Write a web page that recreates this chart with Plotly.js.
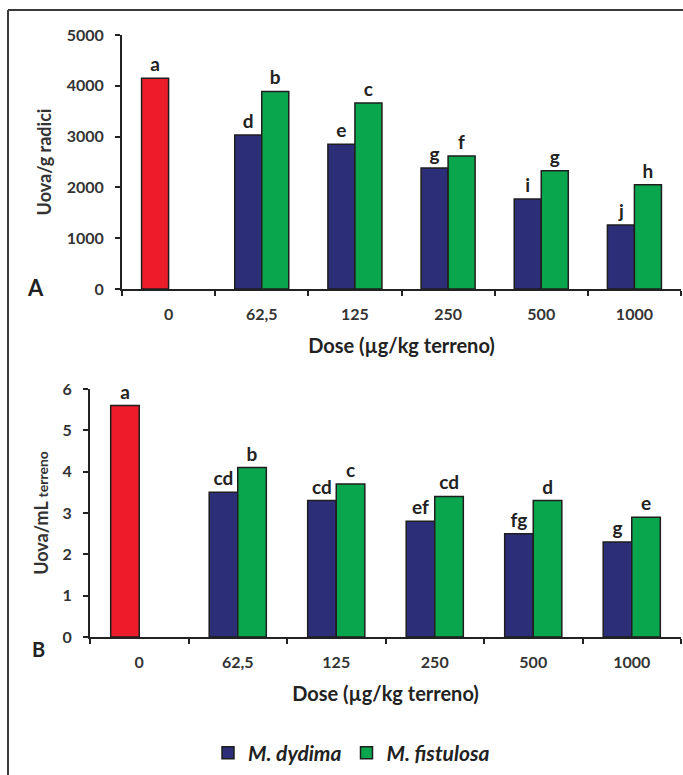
<!DOCTYPE html>
<html><head><meta charset="utf-8">
<script src="https://cdn.plot.ly/plotly-3.0.1.min.js"></script>
<style>html,body{margin:0;padding:0;background:#fff}#chart{width:683px;height:775px}</style>
</head><body><div id="chart"></div>
<script>
// ---- data ----
const doses = ['0', '62,5', '125', '250', '500', '1000'];
const treatedDoses = ['62,5', '125', '250', '500', '1000'];

// Panel A: eggs per g of roots
const controlRoots = [4150];
const controlRootsLetters = ['a'];
const dydimaRoots = [3030, 2850, 2380, 1770, 1260];
const fistulosaRoots = [3890, 3660, 2620, 2330, 2050];
const dydimaRootsLetters = ['d', 'e', 'g', 'i', 'j'];
const fistulosaRootsLetters = ['b', 'c', 'f', 'g', 'h'];

// Panel B: eggs per mL of soil
const controlSoil = [5.6];
const controlSoilLetters = ['a'];
const dydimaSoil = [3.5, 3.3, 2.8, 2.5, 2.3];
const fistulosaSoil = [4.1, 3.7, 3.4, 3.3, 2.9];
const dydimaSoilLetters = ['cd', 'cd', 'ef', 'fg', 'g'];
const fistulosaSoilLetters = ['b', 'c', 'cd', 'd', 'e'];

const seriesNames = ['M. dydima', 'M. fistulosa'];

// ---- styles ----
const W = 683, H = 775;
const FONT = 'Lato, "Open Sans", sans-serif';
const RED = '#ec1c2a', BLUE = '#2c2f78', GREEN = '#0aa64e', EDGE = '#1e1e1e';
const px = v => v / W, py = v => 1 - v / H;

function bar(x, y, text, color, group, xa, ya, name, showlegend) {
  return {
    type: 'bar', x: x, y: y, text: text, name: name, showlegend: showlegend,
    xaxis: xa, yaxis: ya, offsetgroup: group,
    marker: {color: color, line: {color: EDGE, width: 1.5}},
    textposition: 'outside', constraintext: 'none', cliponaxis: false,
    textfont: {family: FONT, size: 19, color: '#222', weight: 'bold'},
    hoverinfo: 'x+y'
  };
}

const traces = [
  bar(['0'], controlRoots, controlRootsLetters, RED, 'a', 'x', 'y', 'Controllo', false),
  bar(treatedDoses, dydimaRoots, dydimaRootsLetters, BLUE, 'a', 'x', 'y', seriesNames[0], true),
  bar(treatedDoses, fistulosaRoots, fistulosaRootsLetters, GREEN, 'b', 'x', 'y', seriesNames[1], true),
  bar(['0'], controlSoil, controlSoilLetters, RED, 'a', 'x2', 'y2', 'Controllo', false),
  bar(treatedDoses, dydimaSoil, dydimaSoilLetters, BLUE, 'a', 'x2', 'y2', seriesNames[0], false),
  bar(treatedDoses, fistulosaSoil, fistulosaSoilLetters, GREEN, 'b', 'x2', 'y2', seriesNames[1], false)
];

const tickFont = {family: FONT, size: 16, color: '#333', weight: 'bold'};
const titleFont = {family: FONT, size: 20, color: '#222', weight: 'bold'};

function xAxis(domain, anchor) {
  return {
    domain: domain, anchor: anchor, type: 'category', categoryorder: 'array', categoryarray: doses,
    range: [-0.5, 5.5], tickson: 'boundaries', ticks: 'outside', ticklen: 5, tickwidth: 2, tickcolor: '#222',
    showline: true, linecolor: '#222', linewidth: 2, showgrid: false, zeroline: false,
    tickfont: tickFont, ticklabelstandoff: 10,
    title: {text: 'Dose (µg/kg terreno)', font: titleFont, standoff: 17},
    fixedrange: true
  };
}
function yAxis(domain, anchor, range, dtick, title, standoff) {
  return {
    domain: domain, anchor: anchor, range: range, dtick: dtick,
    ticks: 'outside', ticklen: 5, tickwidth: 2, tickcolor: '#222',
    showline: true, linecolor: '#222', linewidth: 2, showgrid: false, zeroline: false,
    tickfont: tickFont, ticklabelstandoff: 8,
    title: {text: title, font: {family: FONT, size: 18, color: '#333', weight: 'bold'}, standoff: standoff},
    fixedrange: true
  };
}

const layout = {
  width: W, height: H, margin: {l: 0, r: 0, t: 0, b: 0},
  paper_bgcolor: '#fff', plot_bgcolor: '#fff',
  barmode: 'group', bargap: 0.42, bargroupgap: 0,
  xaxis: xAxis([px(122), px(681)], 'y'),
  yaxis: yAxis([py(289), py(35)], 'x', [0, 5000], 1000, 'Uova/g radici', 10),
  xaxis2: xAxis([px(90), px(681)], 'y2'),
  yaxis2: yAxis([py(637), py(389)], 'x2', [0, 6], 1,
    'Uova/mL <span style="font-size:14px">terreno</span>', 9),
  showlegend: true,
  legend: {
    orientation: 'h', x: px(208), xanchor: 'left', y: py(753), yanchor: 'middle',
    font: {family: FONT, size: 21, color: '#222', weight: 'bold', style: 'italic'},
    itemclick: false, itemdoubleclick: false, bgcolor: 'rgba(0,0,0,0)'
  },
  annotations: [
    {text: 'A', x: px(25), y: py(287), xref: 'paper', yref: 'paper', showarrow: false,
     font: {family: FONT, size: 22, color: '#222', weight: 'bold'}},
    {text: 'B', x: px(30), y: py(663), xref: 'paper', yref: 'paper', showarrow: false,
     font: {family: FONT, size: 20, color: '#222', weight: 'bold'}}
  ],
  shapes: [
    {type: 'line', xref: 'paper', yref: 'paper', x0: px(8), x1: 1, y0: py(10), y1: py(10), line: {color: '#3a3a3a', width: 2}},
    {type: 'line', xref: 'paper', yref: 'paper', x0: px(8), x1: px(8), y0: py(10), y1: 0, line: {color: '#3a3a3a', width: 2}}
  ]
};

Plotly.newPlot('chart', traces, layout, {displayModeBar: false});
</script></body></html>
